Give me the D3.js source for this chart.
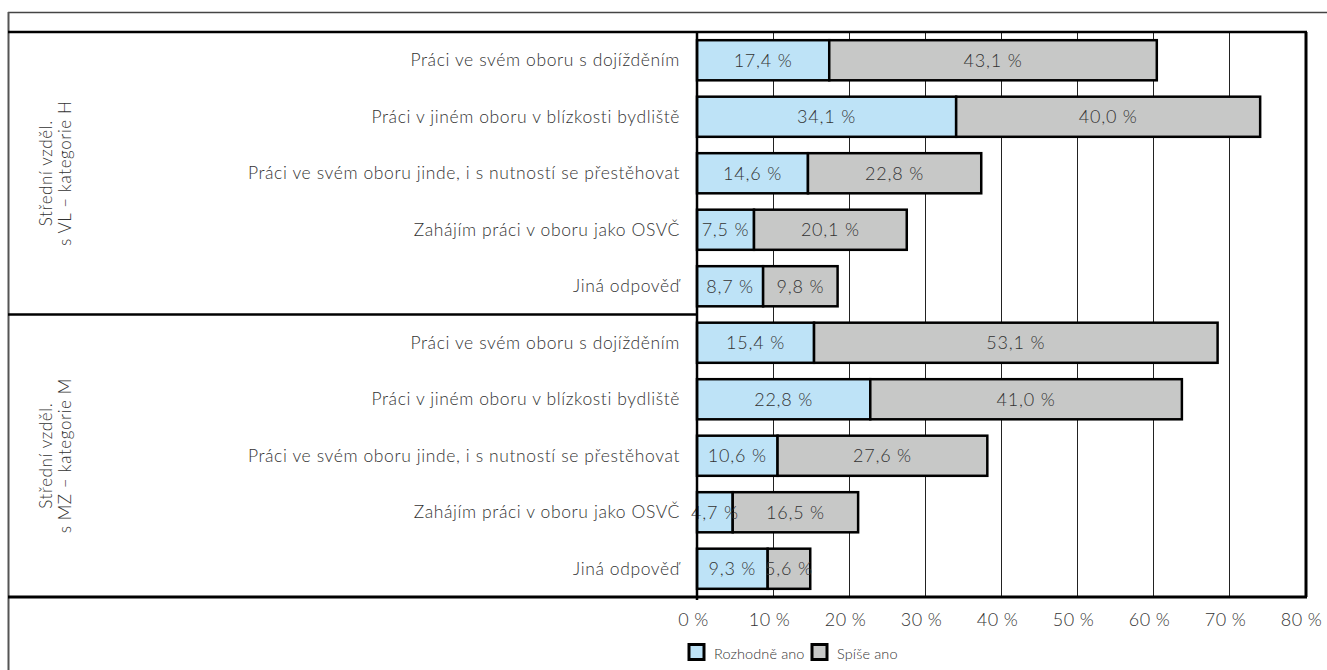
<!DOCTYPE html>
<html>
<head>
<meta charset="utf-8">
<script src="https://cdn.jsdelivr.net/npm/d3@7"></script>
<style>
  html, body { margin: 0; padding: 0; background: #fff; }
  svg { display: block; }
  text { font-family: "Lato", "Noto Sans", sans-serif; font-weight: 300; fill: #333; }
</style>
</head>
<body>
<svg id="chart" width="1327" height="670"></svg>
<script>
// ---------------- DATA ----------------
const groups = ["Střední vzděl.|s VL – kategorie H", "Střední vzděl.|s MZ – kategorie M"];
const categories = [
  "Práci ve svém oboru s dojížděním",
  "Práci v jiném oboru v blízkosti bydliště",
  "Práci ve svém oboru jinde, i s nutností se přestěhovat",
  "Zahájím práci v oboru jako OSVČ",
  "Jiná odpověď"
];
const seriesNames = ["Rozhodně ano", "Spíše ano"];
const rozhodneH = [17.4, 34.1, 14.6, 7.5, 8.7];
const spiseH    = [43.1, 40.0, 22.8, 20.1, 9.8];
const rozhodneM = [15.4, 22.8, 10.6, 4.7, 9.3];
const spiseM    = [53.1, 41.0, 27.6, 16.5, 5.6];
const tickValues = [0, 10, 20, 30, 40, 50, 60, 70, 80];

// ---------------- BUILD ROWS ----------------
const rows = [];
[[rozhodneH, spiseH], [rozhodneM, spiseM]].forEach(([a, b], g) => {
  categories.forEach((c, i) => rows.push({ id: g + "-" + i, group: g, cat: c, vals: [a[i], b[i]] }));
});

const colors = ["#BEE3F7", "#C7C8C7"];
const fmt = v => d3.format(".1f")(v).replace(".", ",") + " %";

const svg = d3.select("#chart");
const plotL = 697, plotR = 1305, plotT = 32, plotB = 597;

const x = d3.scaleLinear().domain([0, 80]).range([plotL, plotR]);
const y = d3.scaleBand().domain(rows.map(r => r.id)).range([plotT, plotB])
  .paddingInner(0.29).paddingOuter(0.145);

// outer frame
svg.append("line").attr("x1", 8).attr("x2", 1327).attr("y1", 12.5).attr("y2", 12.5)
  .attr("stroke", "#444").attr("stroke-width", 1.5);
svg.append("line").attr("x1", 8.5).attr("x2", 8.5).attr("y1", 12).attr("y2", 670)
  .attr("stroke", "#555").attr("stroke-width", 2);

// gridlines
svg.append("g").selectAll("line").data(tickValues.filter(t => t > 0 && t < 80)).join("line")
  .attr("x1", d => Math.round(x(d)) + 0.5).attr("x2", d => Math.round(x(d)) + 0.5)
  .attr("y1", plotT).attr("y2", plotB)
  .attr("stroke", "#222").attr("stroke-width", 1);

// bars
const barG = svg.append("g");
rows.forEach(r => {
  let start = 0;
  r.vals.forEach((v, k) => {
    barG.append("rect")
      .attr("x", x(start)).attr("y", y(r.id))
      .attr("width", x(start + v) - x(start)).attr("height", y.bandwidth())
      .attr("fill", colors[k]).attr("stroke", "#000").attr("stroke-width", 2.5);
    start += v;
  });
});
rows.forEach(r => {
  let start = 0;
  r.vals.forEach((v, k) => {
    barG.append("text")
      .attr("x", (x(start) + x(start + v)) / 2)
      .attr("y", y(r.id) + y.bandwidth() / 2 + 6.5)
      .attr("text-anchor", "middle").attr("font-size", 18)
      .attr("letter-spacing", 0.8)
      .text(fmt(v));
    start += v;
  });
});

// category labels
svg.append("g").selectAll("text").data(rows).join("text")
  .attr("x", 680).attr("y", d => y(d.id) + y.bandwidth() / 2 + 6)
  .attr("text-anchor", "end").attr("font-size", 17.5)
  .attr("letter-spacing", 0.6)
  .text(d => d.cat);

// structural lines
svg.append("line").attr("x1", 8).attr("x2", plotR + 2).attr("y1", plotT).attr("y2", plotT)
  .attr("stroke", "#000").attr("stroke-width", 2.5);
svg.append("line").attr("x1", 8).attr("x2", plotR + 2).attr("y1", plotB).attr("y2", plotB)
  .attr("stroke", "#000").attr("stroke-width", 3);
const sepY = (y(rows[4].id) + y.bandwidth() + y(rows[5].id)) / 2;
svg.append("line").attr("x1", 8).attr("x2", plotL).attr("y1", sepY).attr("y2", sepY)
  .attr("stroke", "#000").attr("stroke-width", 2.5);
svg.append("line").attr("x1", plotL).attr("x2", plotL).attr("y1", plotT).attr("y2", plotB + 3)
  .attr("stroke", "#000").attr("stroke-width", 2.5);
svg.append("line").attr("x1", plotR + 1).attr("x2", plotR + 1).attr("y1", plotT).attr("y2", plotB)
  .attr("stroke", "#000").attr("stroke-width", 3);

// group labels
groups.forEach((g, gi) => {
  const ids = rows.filter(r => r.group === gi).map(r => r.id);
  const cy = (y(ids[0]) + y(ids[ids.length - 1]) + y.bandwidth()) / 2;
  const lines = g.split("|");
  lines.forEach((ln, li) => {
    const bx = 52 + li * 19;
    svg.append("text")
      .attr("transform", `translate(${bx},${cy}) rotate(-90)`)
      .attr("text-anchor", "middle").attr("font-size", 17)
      .attr("letter-spacing", 0.6)
      .text(ln);
  });
});

// x axis tick labels
const axis = d3.axisBottom(x).tickValues(tickValues).tickSize(0).tickFormat(d => d + " %");
const axG = svg.append("g").attr("transform", `translate(0,${plotB})`).call(axis);
axG.select(".domain").remove();
axG.selectAll("text").attr("y", 16).attr("dy", "0.71em").attr("x", -4)
  .attr("font-size", 18).attr("fill", "#333").attr("letter-spacing", 0.4)
  .style("font-family", "Lato, 'Noto Sans', sans-serif").style("font-weight", 300);

// legend
const legX = [689, 812];
seriesNames.forEach((s, i) => {
  svg.append("rect").attr("x", legX[i]).attr("y", 644.5).attr("width", 15).attr("height", 15)
    .attr("fill", colors[i]).attr("stroke", "#000").attr("stroke-width", 3);
  svg.append("text").attr("x", legX[i] + 25).attr("y", 659).attr("font-size", 14.5)
    .attr("letter-spacing", 0.1).text(s);
});
</script>
</body>
</html>
